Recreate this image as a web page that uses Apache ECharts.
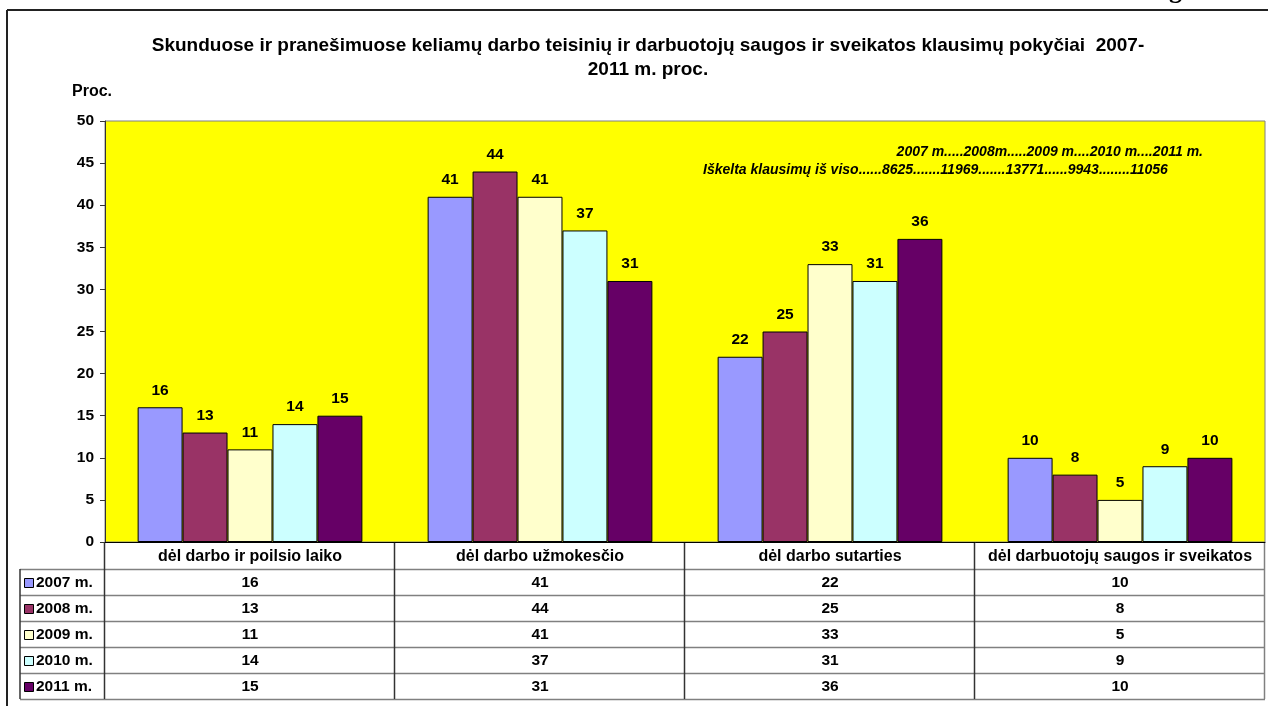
<!DOCTYPE html>
<html>
<head>
<meta charset="utf-8">
<script src="https://cdn.jsdelivr.net/npm/echarts@6/dist/echarts.min.js"></script>
<style>
  html, body { margin: 0; padding: 0; background: #fff; }
  #chart { width: 1268px; height: 706px; }
</style>
</head>
<body>
<div id="chart"></div>
<script>
var categories = ['dėl darbo ir poilsio laiko', 'dėl darbo užmokesčio', 'dėl darbo sutarties', 'dėl darbuotojų saugos ir sveikatos'];
var years = ['2007 m.', '2008 m.', '2009 m.', '2010 m.', '2011 m.'];
var v2007 = [16, 41, 22, 10];
var v2008 = [13, 44, 25, 8];
var v2009 = [11, 41, 33, 5];
var v2010 = [14, 37, 31, 9];
var v2011 = [15, 31, 36, 10];
var colors = ['#9999FF', '#993366', '#FFFFCC', '#CCFFFF', '#660066'];
var yTicks = [0, 5, 10, 15, 20, 25, 30, 35, 40, 45, 50];
var noteLine1 = '2007 m.....2008m.....2009 m....2010 m....2011 m.';
var noteLine2 = 'Iškelta klausimų iš viso......8625.......11969.......13771......9943........11056';

var allValues = [v2007, v2008, v2009, v2010, v2011];
var font = 'Arial, "Liberation Sans", sans-serif';

var chart = echarts.init(document.getElementById('chart'));

var series = [];
for (var i = 0; i < years.length; i++) {
  series.push({
    name: years[i],
    type: 'bar',
    data: allValues[i],
    barGap: 0,
    barCategoryGap: '22.5%',
    itemStyle: { color: colors[i], borderColor: '#000', borderWidth: 1 },
    label: {
      show: true,
      position: 'top',
      distance: 9,
      color: '#000',
      fontWeight: 'bold',
      fontSize: 15.5,
      fontFamily: font
    }
  });
}

var option = {
  animation: false,
  title: {
    text: 'Skunduose ir pranešimuose keliamų darbo teisinių ir darbuotojų saugos ir sveikatos klausimų pokyčiai  2007-\n2011 m. proc.',
    left: 643,
    top: 29,
    textAlign: 'center',
    textStyle: { fontFamily: font, fontWeight: 'bold', fontSize: 19, lineHeight: 24, color: '#000' }
  },
  grid: {
    left: 105,
    right: 3,
    top: 121,
    bottom: 164,
    show: true,
    backgroundColor: '#FFFF00',
    borderColor: '#808080',
    borderWidth: 1
  },
  xAxis: {
    type: 'category',
    data: categories,
    axisLabel: { show: false },
    axisTick: { show: false },
    axisLine: { lineStyle: { color: '#000' } }
  },
  yAxis: {
    type: 'value',
    min: yTicks[0],
    max: yTicks[yTicks.length - 1],
    interval: 5,
    splitLine: { show: false },
    axisLine: { show: true, lineStyle: { color: '#333' } },
    axisTick: { show: true, length: 5, lineStyle: { color: '#333' } },
    axisLabel: { color: '#000', fontWeight: 'bold', fontSize: 15.5, fontFamily: font, margin: 11 }
  },
  series: series
};
chart.setOption(option);

// data table under the plot, legend keys, extra texts
function buildTable() {
  var els = [];
  var cx0 = chart.convertToPixel({ xAxisIndex: 0 }, 0);
  var cx1 = chart.convertToPixel({ xAxisIndex: 0 }, 1);
  var band = cx1 - cx0;
  var tLeft = cx0 - band / 2;
  var tRight = tLeft + band * categories.length;
  var tTop = chart.convertToPixel({ yAxisIndex: 0 }, 0);
  var headH = 27;
  var rowH = 26;
  var legLeft = 20;
  var tBottom = tTop + headH + rowH * years.length;
  var f15 = 'bold 15.5px ' + font;

  for (var c = 0; c < categories.length; c++) {
    var cx = tLeft + band * (c + 0.5);
    els.push({ type: 'text', x: cx, y: tTop + headH / 2 + 1,
      style: { text: categories[c], fill: '#000', font: 'bold 16px ' + font, align: 'center', verticalAlign: 'middle' } });
    for (var r = 0; r < years.length; r++) {
      els.push({ type: 'text', x: cx, y: tTop + headH + rowH * (r + 0.5) + 1,
        style: { text: String(allValues[r][c]), fill: '#000', font: f15, align: 'center', verticalAlign: 'middle' } });
    }
  }
  for (var r = 0; r <= years.length; r++) {
    var y = Math.round(tTop + headH + rowH * r) + 0.5;
    els.push({ type: 'line', shape: { x1: legLeft, y1: y, x2: tRight, y2: y }, style: { stroke: '#808080', lineWidth: 1.5 } });
  }
  for (var c = 0; c <= categories.length; c++) {
    var x = Math.round(tLeft + band * c) - 0.5;
    els.push({ type: 'line', shape: { x1: x, y1: tTop, x2: x, y2: tBottom },
      style: { stroke: c === categories.length ? '#808080' : '#333', lineWidth: 1.5 } });
  }
  els.push({ type: 'line', shape: { x1: legLeft, y1: tTop + headH, x2: legLeft, y2: tBottom }, style: { stroke: '#333', lineWidth: 1.5 } });

  for (var r = 0; r < years.length; r++) {
    var ry = tTop + headH + rowH * (r + 0.5);
    els.push({ type: 'rect', shape: { x: legLeft + 4.5, y: Math.round(ry - 4) + 0.5, width: 9, height: 9 },
      style: { fill: colors[r], stroke: '#000', lineWidth: 1 } });
    els.push({ type: 'text', x: legLeft + 16, y: ry + 1,
      style: { text: years[r], fill: '#000', font: f15, align: 'left', verticalAlign: 'middle' } });
  }

  els.push({ type: 'text', x: 72, y: 92, style: { text: 'Proc.', fill: '#000', font: 'bold 16px ' + font, align: 'left', verticalAlign: 'middle' } });
  els.push({ type: 'text', x: 1203, y: 152, style: { text: noteLine1, fill: '#000', font: 'italic bold 14px ' + font, align: 'right', verticalAlign: 'middle' } });
  els.push({ type: 'text', x: 703, y: 170, style: { text: noteLine2, fill: '#000', font: 'italic bold 14px ' + font, align: 'left', verticalAlign: 'middle' } });

  els.push({ type: 'line', shape: { x1: 7, y1: 10, x2: 1268, y2: 10 }, style: { stroke: '#222', lineWidth: 2 } });
  els.push({ type: 'line', shape: { x1: 7, y1: 10, x2: 7, y2: 706 }, style: { stroke: '#222', lineWidth: 2 } });
  els.push({ type: 'text', x: 1169, y: -22, style: { text: 'g', fill: '#000', font: 'bold 26px "Liberation Serif", serif', align: 'left', verticalAlign: 'top' } });
  return els;
}

chart.setOption({ graphic: { elements: buildTable() } });
</script>
</body>
</html>
